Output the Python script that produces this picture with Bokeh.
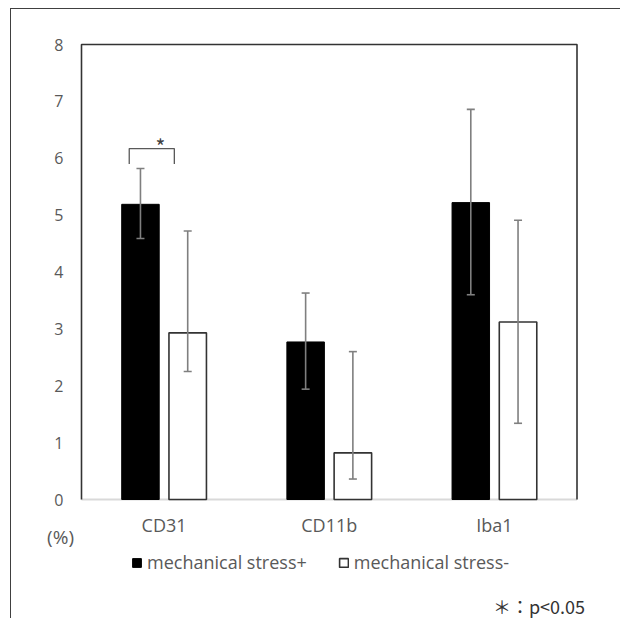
import numpy as np
from bokeh.plotting import figure
from bokeh.models import Range1d, FixedTicker, Label, Legend, LegendItem
from bokeh.embed import file_html
from bokeh.resources import INLINE

# ---- data ----
categories = ["CD31", "CD11b", "Iba1"]
stress_pos = [5.19, 2.77, 5.22]
stress_pos_lower = [4.59, 1.94, 3.60]
stress_pos_upper = [5.82, 3.63, 6.86]
stress_neg = [2.93, 0.82, 3.12]
stress_neg_lower = [2.25, 0.36, 1.34]
stress_neg_upper = [4.72, 2.60, 4.91]
y_ticks = [0, 1, 2, 3, 4, 5, 6, 7, 8]
y_max = 8
legend_labels = ["mechanical stress+", "mechanical stress-"]
sig_label = "*"
note_label = "＊：p<0.05"
unit_label = "(%)"

FONT = "Open Sans"
CJK = "Noto Sans CJK JP"
GRAY = "#595959"
DARK = "#333333"

# ---- layout (pixels) ----
W, H = 610, 610
MB_LEFT, MB_TOP = 30, 20
FRAME_W, FRAME_H = W - MB_LEFT, H - MB_TOP
ORIGIN_DX = 40          # x=0 offset inside the frame
PLOT_W_PX = 495.5       # width of the category area
PLOT_H_PX = 455.0       # height of 0..8
TOP_GAP = 15.0

ncat = len(categories)
ppx = PLOT_W_PX / ncat
ppy = PLOT_H_PX / y_max
x0 = -ORIGIN_DX / ppx
x1 = x0 + FRAME_W / ppx
y1 = y_max + TOP_GAP / ppy
y0 = y1 - FRAME_H / ppy

centers = np.arange(ncat) + 0.5
offset = 0.143
bar_w = 0.227
x_pos = centers - offset
x_neg = centers + offset

p = figure(width=W, height=H, output_backend="svg", toolbar_location=None,
           x_range=Range1d(x0, x1), y_range=Range1d(y0, y1),
           x_axis_location="above",
           min_border_left=MB_LEFT, min_border_right=0, min_border_top=MB_TOP,
           min_border_bottom=0)
p.outline_line_color = None
p.grid.grid_line_color = None
p.background_fill_color = "white"
p.border_fill_color = "white"
p.styles = {"margin-left": "10px", "margin-top": "8px",
            "border-left": "1.5px solid #404040", "border-top": "1.5px solid #404040"}

# baseline
p.segment(x0=[0], y0=[0], x1=[ncat], y1=[0], line_color="#d9d9d9", line_width=2)

# bars
r_pos = p.vbar(x=x_pos, top=stress_pos, bottom=0, width=bar_w,
               fill_color="black", line_color="black", line_width=1)
r_neg = p.vbar(x=x_neg, top=stress_neg, bottom=0, width=bar_w,
               fill_color="white", line_color=DARK, line_width=1.6)

# error bars
EB = "#7f7f7f"
for xs, lo, hi in [(x_pos, stress_pos_lower, stress_pos_upper),
                   (x_neg, stress_neg_lower, stress_neg_upper)]:
    p.segment(x0=xs, y0=lo, x1=xs, y1=hi, line_color=EB, line_width=1.6)
    p.scatter(x=xs, y=lo, marker="dash", size=8, line_color=EB, line_width=1.6)
    p.scatter(x=xs, y=hi, marker="dash", size=8, line_color=EB, line_width=1.6)

# plot-area border (left, top, right)
p.line(x=[0, 0, ncat, ncat], y=[0, y_max, y_max, 0], line_color=DARK, line_width=1.6)

# significance bracket
bx0 = x_pos[0] - 0.068
bx1 = x_neg[0] - 0.081
by_top = stress_pos_upper[0] + 0.35
by_bot = stress_pos_upper[0] + 0.08
p.line(x=[bx0, bx0, bx1, bx1], y=[by_bot, by_top, by_top, by_bot],
       line_color=GRAY, line_width=1.3)
p.add_layout(Label(x=(bx0 + bx1) / 2 + 0.052, y=by_top + 0.05, text=sig_label,
                   text_font=CJK, text_font_size="21px", text_color="#404040",
                   text_align="center", text_baseline="alphabetic"))

# y axis
p.yaxis.fixed_location = 0
p.yaxis.ticker = FixedTicker(ticks=y_ticks)
p.yaxis.axis_line_color = None
p.yaxis.major_tick_line_color = None
p.yaxis.minor_tick_line_color = None
p.yaxis.major_tick_out = 0
p.yaxis.major_tick_in = 0
p.yaxis.major_label_standoff = 18
p.yaxis.major_label_text_font = FONT
p.yaxis.major_label_text_font_size = "16px"
p.yaxis.major_label_text_color = GRAY

# x axis (labels below the zero line)
p.xaxis.fixed_location = 0
p.xaxis.ticker = FixedTicker(ticks=list(centers))
p.xaxis.major_label_overrides = {float(c): n for c, n in zip(centers, categories)}
p.xaxis.axis_line_color = None
p.xaxis.major_tick_line_color = None
p.xaxis.minor_tick_line_color = None
p.xaxis.major_tick_out = 0
p.xaxis.major_tick_in = 0
p.xaxis.major_label_standoff = -37
p.xaxis.major_label_text_font = FONT
p.xaxis.major_label_text_font_size = "18px"
p.xaxis.major_label_text_color = GRAY

# legend
legend = Legend(items=[LegendItem(label=legend_labels[0], renderers=[r_pos]),
                       LegendItem(label=legend_labels[1], renderers=[r_neg])],
                orientation="horizontal", location=(90, 45),
                label_text_font=FONT, label_text_font_size="18px",
                label_text_color=GRAY, border_line_color=None,
                background_fill_alpha=0, spacing=31, label_standoff=5,
                glyph_width=11, glyph_height=11, label_height=20,
                padding=0, margin=0)
p.add_layout(legend, "center")

# texts
p.add_layout(Label(x=-0.127, y=-0.653, text=unit_label, text_font=FONT,
                   text_font_size="19px", text_color=GRAY,
                   text_align="center", text_baseline="middle"))
p.add_layout(Label(x=2.77, y=-1.878, text=note_label, text_font=CJK,
                   text_font_size="18px", text_color=DARK,
                   text_align="center", text_baseline="middle"))

open("out.html", "w").write(file_html(p, INLINE))
